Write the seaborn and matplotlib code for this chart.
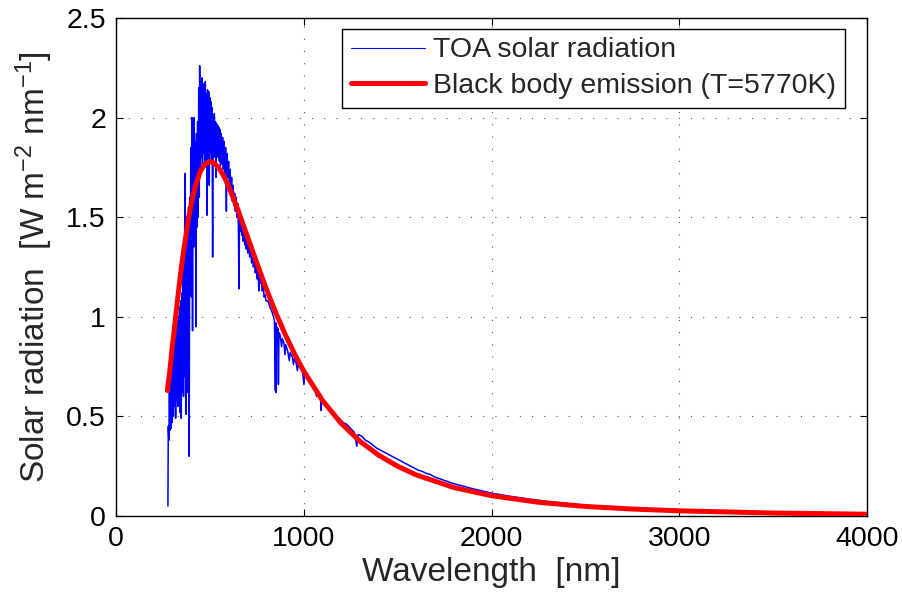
import matplotlib
matplotlib.use("Agg")
import matplotlib.pyplot as plt
import seaborn as sns
import pandas as pd

# ---------------- data ----------------
toa_wavelength = [
    278, 280, 283, 286, 289, 292, 295, 298, 301, 304, 307, 310, 313, 316, 319, 322,
    325, 328, 331, 334, 337, 340, 343, 346, 349, 352, 355, 358, 361, 364, 367, 370,
    373, 376, 379, 382, 385, 388, 391, 394, 397, 400, 403, 406, 409, 412, 415, 418,
    421, 424, 427, 430, 433, 436, 439, 442, 445, 447, 450, 453, 456, 459, 462, 465,
    468, 471, 474, 477, 480, 483, 486, 489, 492, 495, 498, 501, 504, 507, 510, 513,
    516, 519, 522, 525, 528, 531, 534, 537, 540, 543, 546, 549, 552, 555, 558, 561,
    565, 569, 573, 577, 581, 585, 589, 593, 597, 601, 605, 609, 613, 617, 621, 625,
    629, 633, 637, 641, 645, 649, 653, 656, 659, 663, 667, 671, 675, 679, 683, 687,
    691, 695, 699, 703, 708, 713, 718, 723, 728, 733, 738, 743, 748, 753, 758, 762,
    766, 770, 775, 780, 785, 790, 795, 800, 810, 820, 830, 840, 845, 850, 852, 854,
    857, 861, 864, 866, 869, 875, 883, 887, 895, 901, 905, 915, 924, 928, 940, 946,
    950, 960, 967, 972, 985, 995, 1002, 1006, 1020, 1040, 1060, 1070, 1075, 1090, 1093, 1097,
    1110, 1130, 1150, 1170, 1190, 1210, 1230, 1250, 1270, 1283, 1290, 1310, 1330, 1350, 1370, 1390,
    1410, 1430, 1450, 1470, 1490, 1510, 1530, 1550, 1570, 1590, 1610, 1630, 1650, 1670, 1700, 1730,
    1760, 1790, 1820, 1850, 1880, 1910, 1940, 1970, 2000, 2100, 2200, 2300, 2400, 2500, 2600, 2800,
    3000, 3200, 3400, 3600, 3800, 4000,
]
toa_irradiance = [
    0.05, 0.45, 0.38, 0.62, 0.43, 0.70, 0.44, 0.76, 0.47, 0.80, 0.50, 0.86, 0.55, 0.90, 0.49, 0.93,
    0.58, 0.97, 0.55, 1.00, 0.60, 1.05, 0.52, 1.08, 0.49, 1.12, 0.62, 1.22, 0.60, 1.30, 0.70, 1.72,
    0.51, 1.50, 0.75, 1.48, 0.62, 1.55, 0.30, 1.60, 1.20, 1.85, 1.10, 2.00, 0.93, 1.95, 1.35, 2.00,
    1.40, 1.88, 0.95, 1.92, 1.45, 1.98, 1.50, 2.15, 1.60, 2.26, 1.70, 2.18, 1.80, 2.20, 1.75, 2.17,
    1.82, 2.15, 1.78, 2.18, 1.80, 2.12, 1.51, 2.14, 1.80, 2.13, 1.66, 2.10, 1.82, 2.08, 1.78, 2.05,
    1.30, 2.00, 1.80, 2.02, 1.84, 1.98, 1.70, 1.97, 1.82, 1.96, 1.80, 1.95, 1.78, 1.94, 1.76, 1.92,
    1.77, 1.90, 1.74, 1.88, 1.72, 1.85, 1.53, 1.82, 1.70, 1.78, 1.65, 1.74, 1.62, 1.70, 1.58, 1.66,
    1.56, 1.62, 1.53, 1.60, 1.50, 1.57, 1.46, 1.14, 1.50, 1.43, 1.49, 1.41, 1.47, 1.38, 1.45, 1.36,
    1.43, 1.34, 1.40, 1.32, 1.38, 1.30, 1.35, 1.27, 1.32, 1.25, 1.29, 1.22, 1.26, 1.19, 1.23, 1.13,
    1.20, 1.17, 1.18, 1.13, 1.15, 1.10, 1.11, 1.08, 1.08, 1.05, 1.03, 1.00, 0.98, 0.63, 0.97, 0.62,
    0.95, 0.88, 0.94, 0.66, 0.92, 0.91, 0.85, 0.89, 0.87, 0.81, 0.86, 0.83, 0.78, 0.82, 0.80, 0.76,
    0.79, 0.77, 0.73, 0.76, 0.74, 0.72, 0.66, 0.71, 0.69, 0.66, 0.63, 0.60, 0.62, 0.59, 0.53, 0.58,
    0.57, 0.55, 0.53, 0.50, 0.49, 0.47, 0.46, 0.44, 0.42, 0.35, 0.41, 0.40, 0.38, 0.37, 0.355, 0.34,
    0.33, 0.32, 0.31, 0.30, 0.29, 0.28, 0.27, 0.26, 0.25, 0.24, 0.23, 0.225, 0.215, 0.21, 0.195, 0.185,
    0.175, 0.165, 0.157, 0.15, 0.142, 0.135, 0.128, 0.122, 0.115, 0.099, 0.085, 0.073, 0.063, 0.054, 0.047, 0.036,
    0.027, 0.021, 0.016, 0.013, 0.010, 0.008,
]

bb_wavelength = [
    275, 290, 300, 310, 325, 337, 350, 362, 375, 387, 400, 412, 425, 450, 475, 500,
    525, 550, 575, 600, 650, 700, 750, 800, 850, 900, 950, 1000, 1100, 1200,
    1300, 1400, 1500, 1600, 1800, 2000, 2250, 2500, 2750, 3000, 3500, 4000,
]
bb_emission = [
    0.63, 0.745, 0.84, 0.92, 1.05, 1.15, 1.25, 1.335, 1.415, 1.49, 1.555, 1.61, 1.657, 1.73, 1.766, 1.78,
    1.771, 1.746, 1.707, 1.657, 1.538, 1.406, 1.273, 1.144, 1.025, 0.916, 0.817, 0.729, 0.581, 0.465,
    0.375, 0.305, 0.25, 0.206, 0.143, 0.102, 0.069, 0.048, 0.035, 0.026, 0.015, 0.009,
]

series_labels = ["TOA solar radiation", "Black body emission (T=5770K)"]
x_ticks = [0, 1000, 2000, 3000, 4000]
y_ticks = [0, 0.5, 1, 1.5, 2, 2.5]
y_tick_labels = ["0", "0.5", "1", "1.5", "2", "2.5"]

# ---------------- style ----------------
sns.set_style("ticks")
plt.rcParams["font.family"] = ["Liberation Sans", "DejaVu Sans"]
plt.rcParams["mathtext.fontset"] = "custom"
plt.rcParams["mathtext.rm"] = "Liberation Sans"
plt.rcParams["mathtext.it"] = "Liberation Sans:italic"
plt.rcParams["mathtext.bf"] = "Liberation Sans:bold"
plt.rcParams["axes.unicode_minus"] = True

fig = plt.figure(figsize=(9.03, 5.96), dpi=100)
ax = fig.add_axes([0.1281, 0.1342, 0.8324, 0.8356])

toa = pd.DataFrame({"wl": toa_wavelength, "val": toa_irradiance})
bb = pd.DataFrame({"wl": bb_wavelength, "val": bb_emission})

sns.lineplot(data=toa, x="wl", y="val", ax=ax, color="#0000ff", linewidth=1.1,
             estimator=None, sort=False, label=series_labels[0], zorder=3)
sns.lineplot(data=bb, x="wl", y="val", ax=ax, color="#ff0000", linewidth=3.6,
             estimator=None, sort=False, label=series_labels[1], zorder=4)

ax.set_xlim(0, 4000)
ax.set_ylim(0, 2.5)
ax.set_xticks(x_ticks)
ax.set_xticklabels([str(t) for t in x_ticks])
ax.set_yticks(y_ticks)
ax.set_yticklabels(y_tick_labels)

ax.grid(True, color="#555555", linestyle=(0, (1, 10)), linewidth=0.8)
for s in ax.spines.values():
    s.set_visible(True)
    s.set_color("black")
    s.set_linewidth(1.0)

ax.tick_params(axis="both", which="both", direction="in", length=5, width=0.8,
               top=True, right=True, labelsize=20.5, colors="black", pad=7)

ax.set_xlabel("Wavelength  [nm]", fontsize=24, labelpad=4)
ax.set_ylabel("Solar radiation  [W m$^{-2}$ nm$^{-1}$]", fontsize=24, labelpad=8)

leg = ax.legend(loc="upper right", bbox_to_anchor=(0.9703, 0.978), borderaxespad=0,
                fontsize=20.5, frameon=True, fancybox=False, shadow=False,
                handlelength=2.6, handletextpad=0.3, labelspacing=0.35,
                borderpad=0.3)
leg.get_frame().set_edgecolor("black")
leg.get_frame().set_linewidth(1.0)
leg.get_frame().set_alpha(1.0)
leg.get_lines()[0].set_linewidth(0.8)

fig.savefig("out.png", dpi=100, facecolor="white")
